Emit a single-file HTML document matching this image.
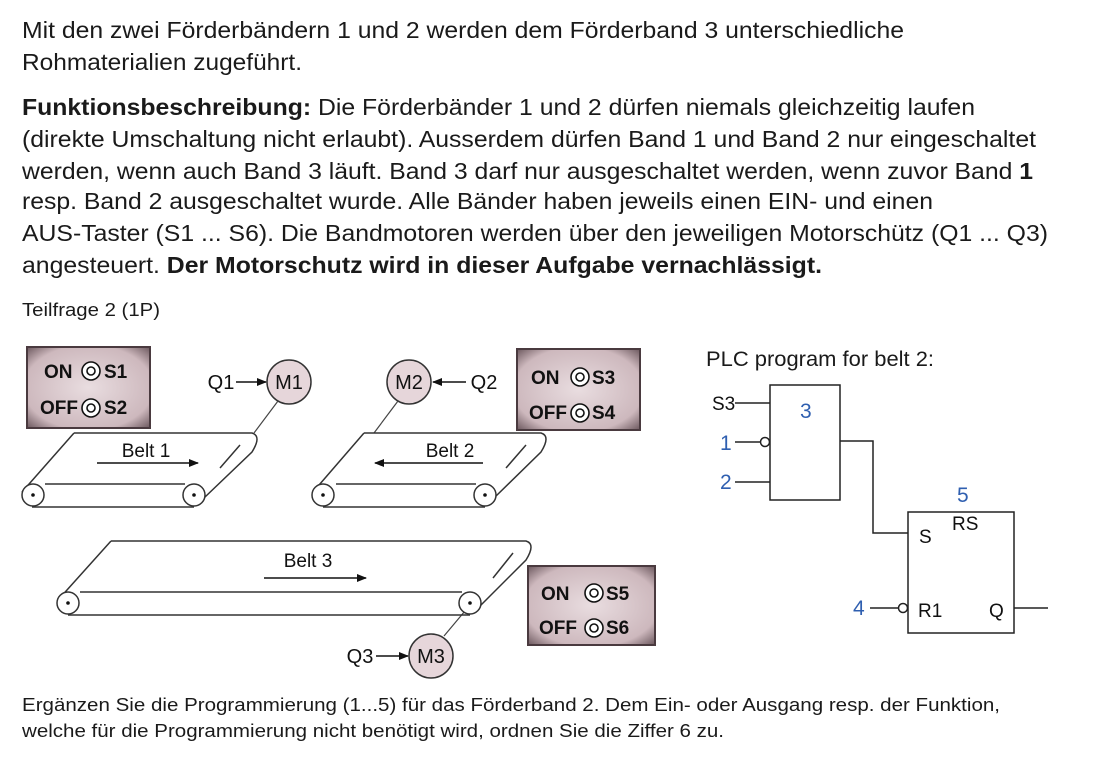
<!DOCTYPE html>
<html><head><meta charset="utf-8"><style>
html,body{margin:0;padding:0;background:#fff;}
svg{display:block;font-family:"Liberation Sans",Arial,sans-serif;}
</style></head><body>
<svg width="1101" height="769" viewBox="0 0 1101 769" xmlns="http://www.w3.org/2000/svg">
<defs>
<radialGradient id="g" cx="50%" cy="50%" r="70%"><stop offset="0" stop-color="#e9dde0"/><stop offset="0.75" stop-color="#cdb8bd"/><stop offset="1" stop-color="#6e5a60"/></radialGradient>
<marker id="ah" markerWidth="10" markerHeight="8" refX="9" refY="4" orient="auto" markerUnits="userSpaceOnUse"><path d="M0,0 L10,4 L0,8 Z" fill="#111"/></marker>
</defs>
<g font-size="23" fill="#1a1a1a">
<text x="22" y="38" textLength="882" lengthAdjust="spacingAndGlyphs">Mit den zwei Förderbändern 1 und 2 werden dem Förderband 3 unterschiedliche</text>
<text x="22" y="70" textLength="280" lengthAdjust="spacingAndGlyphs">Rohmaterialien zugeführt.</text>
<text x="22" y="115" textLength="953" lengthAdjust="spacingAndGlyphs"><tspan font-weight="bold">Funktionsbeschreibung:</tspan> Die Förderbänder 1 und 2 dürfen niemals gleichzeitig laufen</text>
<text x="22" y="147" textLength="1014" lengthAdjust="spacingAndGlyphs">(direkte Umschaltung nicht erlaubt). Ausserdem dürfen Band 1 und Band 2 nur eingeschaltet</text>
<text x="22" y="179" textLength="1011" lengthAdjust="spacingAndGlyphs">werden, wenn auch Band 3 läuft. Band 3 darf nur ausgeschaltet werden, wenn zuvor Band <tspan font-weight="bold">1</tspan></text>
<text x="22" y="209" textLength="911" lengthAdjust="spacingAndGlyphs">resp. Band 2 ausgeschaltet wurde. Alle Bänder haben jeweils einen EIN- und einen</text>
<text x="22" y="241" textLength="1026" lengthAdjust="spacingAndGlyphs">AUS-Taster (S1 ... S6). Die Bandmotoren werden über den jeweiligen Motorschütz (Q1 ... Q3)</text>
<text x="22" y="273" textLength="800" lengthAdjust="spacingAndGlyphs">angesteuert. <tspan font-weight="bold">Der Motorschutz wird in dieser Aufgabe vernachlässigt.</tspan></text>
</g>
<text x="22" y="316" font-size="18" textLength="138" lengthAdjust="spacingAndGlyphs" fill="#1a1a1a">Teilfrage 2 (1P)</text>

<g stroke="#4a3a3f" stroke-width="2">
<rect x="27" y="347" width="123" height="81" fill="url(#g)"/>
<rect x="517" y="349" width="123" height="81" fill="url(#g)"/>
<rect x="528" y="566" width="127" height="79" fill="url(#g)"/>
</g>
<g font-size="19" font-weight="bold" fill="#111">
<text x="44" y="378">ON</text><text x="104" y="378">S1</text>
<text x="40" y="414">OFF</text><text x="104" y="414">S2</text>
<text x="531" y="384">ON</text><text x="592" y="384">S3</text>
<text x="529" y="419">OFF</text><text x="592" y="419">S4</text>
<text x="541" y="600">ON</text><text x="606" y="600">S5</text>
<text x="539" y="634">OFF</text><text x="606" y="634">S6</text>
</g>
<g fill="#fff" stroke="#111" stroke-width="1.6">
<circle cx="91" cy="371" r="9"/><circle cx="91" cy="371" r="4"/>
<circle cx="91" cy="408" r="9"/><circle cx="91" cy="408" r="4"/>
<circle cx="580" cy="377" r="9"/><circle cx="580" cy="377" r="4"/>
<circle cx="580" cy="413" r="9"/><circle cx="580" cy="413" r="4"/>
<circle cx="594" cy="593" r="9"/><circle cx="594" cy="593" r="4"/>
<circle cx="594" cy="628" r="9"/><circle cx="594" cy="628" r="4"/>
</g>

<g stroke="#333" stroke-width="1.5" fill="#e6d6da">
<circle cx="289" cy="382" r="22"/><circle cx="409" cy="382" r="22"/><circle cx="431" cy="656" r="22"/>
</g>
<g font-size="20" fill="#111" text-anchor="middle">
<text x="289" y="389">M1</text><text x="409" y="389">M2</text><text x="431" y="663">M3</text>
<text x="221" y="389">Q1</text><text x="484" y="389">Q2</text><text x="360" y="663">Q3</text>
</g>
<g stroke="#111" stroke-width="1.5">
<line x1="236" y1="382" x2="266" y2="382" marker-end="url(#ah)"/>
<line x1="466" y1="382" x2="433" y2="382" marker-end="url(#ah)"/>
<line x1="376" y1="656" x2="408" y2="656" marker-end="url(#ah)"/>
</g>
<g stroke="#444" stroke-width="1.2" fill="none">
<line x1="278" y1="401" x2="254" y2="433"/>
<line x1="398" y1="401" x2="374" y2="433"/>
<line x1="470" y1="605" x2="444" y2="636"/>
</g>

<g stroke="#333" stroke-width="1.5" fill="none">
<path d="M74,433 L252,433 Q262,436 252,452 L205,497"/>
<path d="M74,433 L22,492"/>
<line x1="32" y1="507" x2="194" y2="507"/>
<line x1="45" y1="484" x2="185" y2="484"/>
<line x1="240" y1="445" x2="220" y2="468"/>
<circle cx="33" cy="495" r="11" fill="#fff"/><circle cx="194" cy="495" r="11" fill="#fff"/>
<path d="M364,433 L541,433 Q551,436 541,452 L495,497"/>
<path d="M364,433 L313,492"/>
<line x1="323" y1="507" x2="485" y2="507"/>
<line x1="336" y1="484" x2="476" y2="484"/>
<line x1="526" y1="445" x2="506" y2="468"/>
<circle cx="323" cy="495" r="11" fill="#fff"/><circle cx="485" cy="495" r="11" fill="#fff"/>
<path d="M111,541 L526,541 Q536,544 526,560 L480,606"/>
<path d="M111,541 L58,600"/>
<line x1="68" y1="615" x2="470" y2="615"/>
<line x1="80" y1="592" x2="462" y2="592"/>
<line x1="513" y1="553" x2="493" y2="578"/>
<circle cx="68" cy="603" r="11" fill="#fff"/><circle cx="470" cy="603" r="11" fill="#fff"/>
</g>
<g fill="#111"><circle cx="33" cy="495" r="1.8"/><circle cx="194" cy="495" r="1.8"/><circle cx="323" cy="495" r="1.8"/><circle cx="485" cy="495" r="1.8"/><circle cx="68" cy="603" r="1.8"/><circle cx="470" cy="603" r="1.8"/></g>
<g font-size="19" fill="#111" text-anchor="middle">
<text x="146" y="457">Belt 1</text><text x="450" y="457">Belt 2</text><text x="308" y="567">Belt 3</text>
</g>
<g stroke="#111" stroke-width="1.5">
<line x1="97" y1="463" x2="198" y2="463" marker-end="url(#ah)"/>
<line x1="483" y1="463" x2="375" y2="463" marker-end="url(#ah)"/>
<line x1="264" y1="578" x2="366" y2="578" marker-end="url(#ah)"/>
</g>

<text x="706" y="366" font-size="21" textLength="228" lengthAdjust="spacingAndGlyphs" fill="#1a1a1a">PLC program for belt 2:</text>
<g stroke="#222" stroke-width="1.5" fill="none">
<rect x="770" y="385" width="70" height="115"/>
<line x1="735" y1="403" x2="770" y2="403"/>
<line x1="735" y1="442" x2="761" y2="442"/>
<circle cx="765" cy="442" r="4.5" fill="#fff"/>
<line x1="735" y1="482" x2="770" y2="482"/>
<polyline points="840,441 873,441 873,533 908,533"/>
<rect x="908" y="512" width="106" height="121"/>
<line x1="870" y1="608" x2="899" y2="608"/>
<circle cx="903" cy="608" r="4.5" fill="#fff"/>
<line x1="1014" y1="608" x2="1048" y2="608"/>
</g>
<g font-size="19" fill="#111">
<text x="712" y="410">S3</text>
<text x="919" y="543">S</text>
<text x="952" y="530">RS</text>
<text x="918" y="617">R1</text>
<text x="989" y="617">Q</text>
</g>
<g font-size="21" fill="#2f5fb0">
<text x="800" y="418">3</text>
<text x="720" y="450">1</text>
<text x="720" y="489">2</text>
<text x="957" y="502">5</text>
<text x="853" y="615">4</text>
</g>

<g font-size="18" fill="#1a1a1a">
<text x="22" y="711" textLength="978" lengthAdjust="spacingAndGlyphs">Ergänzen Sie die Programmierung (1...5) für das Förderband 2. Dem Ein- oder Ausgang resp. der Funktion,</text>
<text x="22" y="737" textLength="702" lengthAdjust="spacingAndGlyphs">welche für die Programmierung nicht benötigt wird, ordnen Sie die Ziffer 6 zu.</text>
</g>
</svg>
</body></html>
